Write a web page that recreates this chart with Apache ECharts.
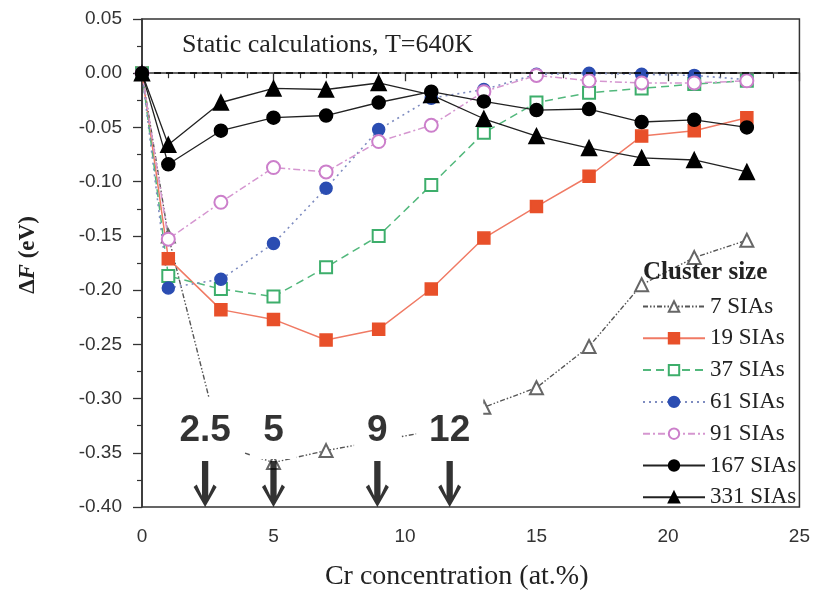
<!DOCTYPE html>
<html><head><meta charset="utf-8">
<script src="https://cdn.jsdelivr.net/npm/echarts@6/dist/echarts.min.js"></script>
<style>html,body{margin:0;padding:0;background:#fff}#c{width:813px;height:596px}</style>
</head><body><div id="c"></div>
<script>
const crConcentration = [0, 1, 3, 5, 7, 9, 11, 13, 15, 17, 19, 21, 23];
const sia7   = [0, -0.150, -0.343, -0.359, -0.348, -0.339, -0.330, -0.308, -0.290, -0.252, -0.195, -0.170, -0.154];
const sia19  = [0, -0.171, -0.218, -0.227, -0.246, -0.236, -0.199, -0.152, -0.123, -0.095, -0.058, -0.053, -0.041];
const sia37  = [0, -0.187, -0.199, -0.206, -0.179, -0.150, -0.103, -0.055, -0.027, -0.018, -0.014, -0.010, -0.007];
const sia61  = [0, -0.198, -0.190, -0.157, -0.106, -0.052, -0.023, -0.015, -0.001, 0.000, -0.001, -0.002, -0.006];
const sia91  = [0, -0.153, -0.119, -0.087, -0.091, -0.063, -0.048, -0.017, -0.002, -0.007, -0.009, -0.009, -0.007];
const sia167 = [0, -0.084, -0.053, -0.041, -0.039, -0.027, -0.017, -0.026, -0.034, -0.033, -0.045, -0.043, -0.050];
const sia331 = [0, -0.066, -0.027, -0.014, -0.015, -0.009, -0.020, -0.042, -0.058, -0.069, -0.078, -0.080, -0.091];
const seriesNames = ['7 SIAs', '19 SIAs', '37 SIAs', '61 SIAs', '91 SIAs', '167 SIAs', '331 SIAs'];
const arrowX = [2.4, 5.0, 8.95, 11.7];
const arrowLabels = ['2.5', '5', '9', '12'];
const titleText = 'Static calculations, T=640K';
const legendTitle = 'Cluster size';

const SERIF = "'Liberation Serif', 'DejaVu Serif', serif";
const SANS = "'Liberation Sans', Arial, sans-serif";
const ARROW_FONT = "bold 37px 'Liberation Sans'";

function pairs(arr) { return crConcentration.map((x, i) => [x, arr[i]]); }

const measureCtx = document.createElement('canvas').getContext('2d');
measureCtx.font = ARROW_FONT;
function textW(t) { return measureCtx.measureText(t).width; }

function mk(name, arr, o) {
  return {
    name: name, type: 'line', data: pairs(arr),
    symbol: o.symbol, symbolSize: o.size,
    lineStyle: { color: o.line, width: o.lw || 1.5, type: o.type || 'solid' },
    itemStyle: { color: o.color, borderColor: o.color, borderWidth: o.bw || 1.5 },
    emphasis: { disabled: true }, z: 2
  };
}

const series = [
  mk(seriesNames[0], sia7,   { symbol: 'emptyTriangle', size: 13, color: '#666', line: '#555', type: [5, 2, 1.5, 2, 1.5, 2], lw: 1.4 }),
  mk(seriesNames[1], sia19,  { symbol: 'rect', size: 12, color: '#E8502A', line: '#F07A64', lw: 1.5 }),
  mk(seriesNames[2], sia37,  { symbol: 'emptyRect', size: 12, color: '#3DAE6B', line: '#52B87C', type: [8, 5], lw: 1.5 }),
  mk(seriesNames[3], sia61,  { symbol: 'circle', size: 12, color: '#2B4DB2', line: '#7E8CC0', type: [2, 4], lw: 1.6 }),
  mk(seriesNames[4], sia91,  { symbol: 'emptyCircle', size: 13, color: '#CC7FCB', line: '#D596D0', type: [7, 3, 2, 3], lw: 1.5 }),
  mk(seriesNames[5], sia167, { symbol: 'circle', size: 13, color: '#000', line: '#222', lw: 1.3 }),
  mk(seriesNames[6], sia331, { symbol: 'triangle', size: 15, color: '#000', line: '#222', lw: 1.3 })
];
series[6].markLine = {
  silent: true, symbol: ['none', 'none'], label: { show: false },
  lineStyle: { color: '#000', type: [7, 5], width: 1.6 },
  data: [{ yAxis: 0 }]
};
// white boxes behind the annotation labels
series.push({
  name: 'labelBoxes', type: 'scatter', z: 9, silent: true,
  data: arrowX.map((x, i) => ({ value: [x, -0.4], symbolSize: [textW(arrowLabels[i]) + 26, 61] })),
  symbol: 'rect', symbolOffset: [0, -78.5],
  itemStyle: { color: '#fff', opacity: 1 },
  emphasis: { disabled: true }
});
series.push({
  name: 'arrows', type: 'scatter', z: 10, silent: true,
  data: arrowX.map(x => [x, -0.4]),
  symbol: 'path://M8,0 L14,0 L14,34 L19,23 L22,25.5 L11,45 L0,25.5 L3,23 L8,34 Z',
  symbolSize: [23, 46], symbolOffset: [0, -23],
  itemStyle: { color: '#000' },
  emphasis: { disabled: true },
  label: {
    show: true, position: 'top', distance: 2,
    formatter: p => arrowLabels[p.dataIndex],
    fontFamily: SANS, fontSize: 37, fontWeight: 'bold', color: '#000',
    padding: [14, 12, 10, 12]
  }
});

const chart = echarts.init(document.getElementById('c'), null, { renderer: 'canvas' });
chart.setOption({
  backgroundColor: '#fff',
  animation: false,
  title: [
    { text: titleText, left: 182, top: 32, padding: 0,
      textStyle: { fontFamily: SERIF, fontSize: 26, fontWeight: 'normal', color: '#222' } },
    { text: legendTitle, left: 643, top: 260, padding: 0,
      textStyle: { fontFamily: SERIF, fontSize: 25, fontWeight: 'bold', color: '#222' } }
  ],
  legend: {
    data: seriesNames, orient: 'vertical', left: 642, top: 295,
    itemWidth: 62, itemHeight: 13, itemGap: 8.8, padding: 0, selectedMode: false,
    textStyle: { fontFamily: SERIF, fontSize: 23, color: '#222', lineHeight: 23 }
  },
  grid: { left: 142, right: 13, top: 19, bottom: 88, show: true, borderColor: '#333', borderWidth: 1.5, backgroundColor: 'transparent' },
  xAxis: {
    type: 'value', min: 0, max: 25, interval: 5,
    name: 'Cr concentration (at.%)', nameLocation: 'middle', nameGap: 56,
    nameTextStyle: { fontFamily: SERIF, fontSize: 28, color: '#222', padding: [0, 28, 0, 0] },
    axisLine: { show: true, lineStyle: { color: '#333', width: 1.5 } },
    axisTick: { show: true, length: 8, lineStyle: { color: '#333', width: 1.3 } },
    minorTick: { show: true, splitNumber: 5, length: 5, lineStyle: { color: '#333', width: 1.2 } },
    axisLabel: { fontFamily: SANS, fontSize: 19, color: '#333', margin: 20 },
    splitLine: { show: false }
  },
  yAxis: {
    type: 'value', min: -0.4, max: 0.05, interval: 0.05,
    name: '{a|Δ}{i|F}{a| (eV)}', nameLocation: 'middle', nameGap: 102, nameRotate: 90,
    nameTextStyle: {
      padding: [0, 0, 0, 16],
      rich: {
        a: { fontFamily: SERIF, fontSize: 23, fontWeight: 'bold', color: '#222' },
        i: { fontFamily: SERIF, fontSize: 23, fontWeight: 'bold', fontStyle: 'italic', color: '#222' }
      }
    },
    axisLine: { show: true, lineStyle: { color: '#333', width: 1.5 } },
    axisTick: { show: true, length: 9, lineStyle: { color: '#333', width: 1.3 } },
    minorTick: { show: true, splitNumber: 2, length: 5, lineStyle: { color: '#333', width: 1.2 } },
    axisLabel: { fontFamily: SANS, fontSize: 19, color: '#333', margin: 20, formatter: v => v.toFixed(2) },
    splitLine: { show: false }
  },
  series: series
});
</script>
</body></html>
